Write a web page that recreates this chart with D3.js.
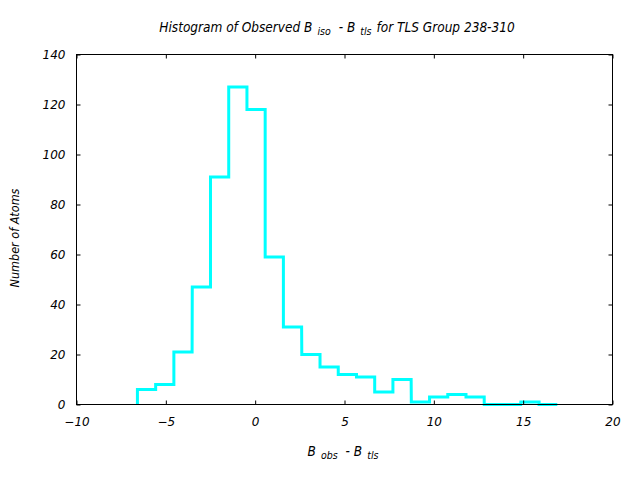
<!DOCTYPE html>
<html>
<head>
<meta charset="utf-8">
<script src="https://cdn.jsdelivr.net/npm/d3@7"></script>
<style>
  html, body { margin: 0; padding: 0; background: #fff; }
  svg { display: block; }
  text { font-family: "DejaVu Sans", sans-serif; font-style: italic; fill: #000; }
  .lab { font-family: "DejaVu Sans Condensed", "DejaVu Sans", sans-serif; font-stretch: condensed; }
</style>
</head>
<body>
<svg id="chart" width="640" height="480"></svg>
<script>
// ---- data ----
const binCenters = [-6.08, -5.06, -4.04, -3.01, -1.99, -0.97, 0.05, 1.07, 2.09, 3.12, 4.14, 5.16,
                    6.18, 7.20, 8.22, 9.25, 10.27, 11.29, 12.31, 13.33, 14.35, 15.38, 16.40];
const counts = [6, 8, 21, 47, 91, 127, 118, 59, 31, 20, 15, 12,
                11, 5, 10, 1, 3, 4, 3, 0, 0, 1, 0];
const xTicks = [-10, -5, 0, 5, 10, 15, 20];
const yTicks = [0, 20, 40, 60, 80, 100, 120, 140];
const xDomain = [-10, 20];
const yDomain = [0, 140];

// ---- layout ----
const plotL = 76.5, plotR = 612.5, plotT = 54.5, plotB = 404.5;
const svg = d3.select("#chart");

const x = d3.scaleLinear().domain(xDomain).range([plotL, plotR]);
const y = d3.scaleLinear().domain(yDomain).range([plotB, plotT]);

// histogram step path (histeps)
const half = (binCenters[1] - binCenters[0]) / 2;
const pts = [];
pts.push([binCenters[0] - half, 0]);
binCenters.forEach((c, i) => {
  pts.push([c - half, counts[i]]);
  pts.push([c + half, counts[i]]);
});
pts.push([binCenters[binCenters.length - 1] + half, 0]);

const line = d3.line().x(d => x(d[0])).y(d => y(d[1]));
svg.append("path")
  .attr("d", line(pts))
  .attr("fill", "none")
  .attr("stroke", "#00ffff")
  .attr("stroke-width", 3)
  .attr("stroke-linejoin", "miter");

// axes
const fmt = d3.format("d");
const tickLen = 4;
function styleAxis(g) {
  g.select(".domain").remove();
  g.selectAll("line").attr("stroke", "#000").attr("stroke-width", 1);
  g.selectAll("text").attr("font-size", 12).attr("font-family", "DejaVu Sans").attr("font-style", "italic");
}
svg.append("g").attr("transform", `translate(0,${plotB})`)
  .call(d3.axisBottom(x).tickValues(xTicks).tickFormat(fmt).tickSizeInner(-tickLen).tickSizeOuter(0).tickPadding(13))
  .call(styleAxis);
svg.append("g").attr("transform", `translate(0,${plotT})`)
  .call(d3.axisTop(x).tickValues(xTicks).tickFormat("").tickSizeInner(-tickLen).tickSizeOuter(0))
  .call(styleAxis);
svg.append("g").attr("transform", `translate(${plotL},0)`)
  .call(d3.axisLeft(y).tickValues(yTicks).tickFormat(fmt).tickSizeInner(-tickLen).tickSizeOuter(0).tickPadding(11))
  .call(styleAxis);
svg.append("g").attr("transform", `translate(${plotR},0)`)
  .call(d3.axisRight(y).tickValues(yTicks).tickFormat("").tickSizeInner(-tickLen).tickSizeOuter(0))
  .call(styleAxis);

// border
svg.append("rect")
  .attr("x", plotL).attr("y", plotT)
  .attr("width", plotR - plotL).attr("height", plotB - plotT)
  .attr("fill", "none").attr("stroke", "#000").attr("stroke-width", 1);

// title
const title = svg.append("text").attr("class", "lab").attr("x", 337).attr("y", 32)
  .attr("text-anchor", "middle").attr("font-size", 13.5);
title.append("tspan").text("Histogram of Observed B");
title.append("tspan").attr("dx", 5).attr("dy", 3).attr("font-size", 10.5).text("iso");
title.append("tspan").attr("dy", -3).attr("dx", 8).text("- B");
title.append("tspan").attr("dx", 5).attr("dy", 3).attr("font-size", 10.5).text("tls");
title.append("tspan").attr("dy", -3).attr("dx", 5).text("for TLS Group 238-310");

// x label
const xl = svg.append("text").attr("class", "lab").attr("x", 343).attr("y", 456)
  .attr("text-anchor", "middle").attr("font-size", 13.5);
xl.append("tspan").text("B");
xl.append("tspan").attr("dx", 5).attr("dy", 3).attr("font-size", 10.5).text("obs");
xl.append("tspan").attr("dy", -3).attr("dx", 8).text("- B");
xl.append("tspan").attr("dx", 5).attr("dy", 3).attr("font-size", 10.5).text("tls");

// y label
svg.append("text").attr("class", "lab")
  .attr("transform", "translate(19,238) rotate(-90)")
  .attr("text-anchor", "middle").attr("font-size", 12.5)
  .text("Number of Atoms");
</script>
</body>
</html>
